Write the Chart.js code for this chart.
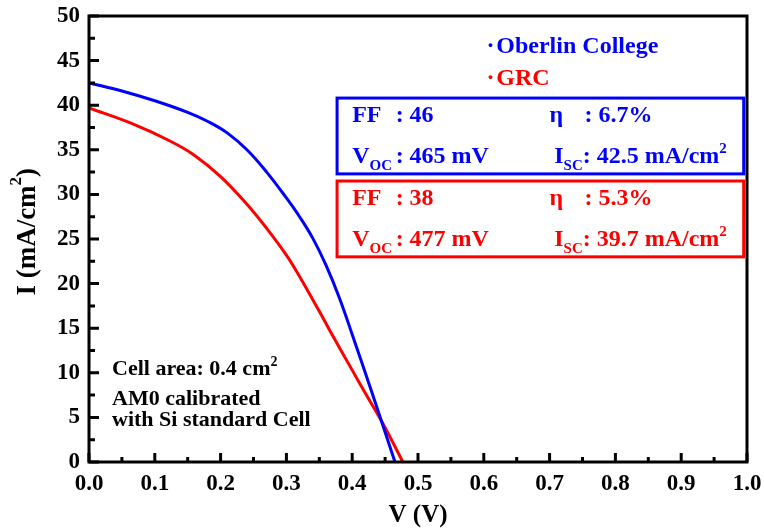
<!DOCTYPE html>
<html>
<head>
<meta charset="utf-8">
<script src="https://cdn.jsdelivr.net/npm/chart.js@4"></script>
<style>
    html, body { margin: 0; padding: 0; background: #fff; }
    #wrap { width: 764px; height: 531px; }
</style>
</head>
<body>
<div id="wrap"><canvas id="chart"></canvas></div>
<script>
const voltageOberlin = [0, 0.05, 0.10, 0.15, 0.18, 0.21, 0.24, 0.27, 0.30, 0.32, 0.34, 0.36, 0.38, 0.40, 0.43, 0.465];
const currentOberlin = [42.5, 41.6, 40.5, 39.2, 38.2, 36.9, 35.0, 32.5, 29.6, 27.5, 25.1, 22.1, 18.5, 14.3, 7.8, 0];

const voltageGrc = [0, 0.07, 0.12, 0.16, 0.20, 0.24, 0.27, 0.30, 0.32, 0.35, 0.37, 0.40, 0.42, 0.446, 0.477];
const currentGrc = [39.7, 37.8, 36.1, 34.4, 32.0, 28.9, 26.2, 23.2, 20.8, 16.9, 14.2, 10.3, 7.7, 4.4, 0];

const seriesNames = ["Oberlin College", "GRC"];
const seriesColors = ["#0000ff", "#ff0000"];
const xTickStep = 0.1;
const yTickStep = 5;

const SERIF = '"Liberation Serif", "Times New Roman", serif';

const toPoints = (xs, ys) => xs.map((x, i) => ({ x, y: ys[i] }));

// rich text: parts are [text, kind, x] with kind "sub" / "sup" / undefined
function drawRich(ctx, x, y, parts, size) {
    parts.forEach(([text, kind, at]) => {
        if (at !== undefined) x = at;
        const s = kind ? Math.round(size * 0.62) : size;
        ctx.font = `bold ${s}px ${SERIF}`;
        const dy = kind === "sub" ? size * 0.3 : kind === "sup" ? -size * 0.42 : 0;
        ctx.fillText(text, x, y + dy);
        x += ctx.measureText(text).width;
    });
    return x;
}

const framePlugin = {
    id: "frame",
    afterDraw(chart) {
        const { ctx, chartArea: a, scales } = chart;
        ctx.save();
        ctx.strokeStyle = "#000";
        ctx.lineWidth = 3;
        ctx.strokeRect(a.left, a.top, a.right - a.left, a.bottom - a.top);

        // inward ticks on bottom and left axes
        const xs = scales.x, ys = scales.y;
        ctx.beginPath();
        for (let v = xs.min; v <= xs.max + 1e-9; v += xTickStep / 2) {
            const major = Math.abs(Math.round(v / xTickStep) * xTickStep - v) < 1e-6;
            const px = xs.getPixelForValue(v);
            ctx.moveTo(px, a.bottom);
            ctx.lineTo(px, a.bottom - (major ? 9 : 5));
        }
        for (let v = ys.min; v <= ys.max + 1e-9; v += yTickStep / 2) {
            const major = Math.abs(Math.round(v / yTickStep) * yTickStep - v) < 1e-6;
            const py = ys.getPixelForValue(v);
            ctx.moveTo(a.left, py);
            ctx.lineTo(a.left + (major ? 10 : 6), py);
        }
        ctx.stroke();

        // y axis title, drawn by hand to get a real superscript
        ctx.translate(28, 231);
        ctx.rotate(-Math.PI / 2);
        ctx.fillStyle = "#000";
        ctx.font = `bold 27px ${SERIF}`;
        const w = ctx.measureText("I (mA/cm)").width + 10;
        ctx.textBaseline = "middle";
        drawRich(ctx, -w / 2, 0, [["I (mA/cm"], ["2", "sup"], [")"]], 27);
        ctx.restore();
    }
};

const notesPlugin = {
    id: "notes",
    afterDraw(chart) {
        const { ctx, scales } = chart;
        const px = v => scales.x.getPixelForValue(v);
        const py = v => scales.y.getPixelForValue(v);
        ctx.save();
        ctx.textBaseline = "alphabetic";
        ctx.textAlign = "left";

        // legend
        ctx.font = `bold 24px ${SERIF}`;
        seriesNames.forEach((name, i) => {
            const y = py([45.85, 42.3][i]);
            ctx.fillStyle = seriesColors[i];
            ctx.fillText("\u00b7", px(0.604), y);
            ctx.fillText(name, px(0.619), y);
        });

        // parameter boxes
        const boxes = [
            { color: seriesColors[0], top: 40.8, bottom: 32.3, l1: 38.1, l2: 33.5,
              ff: ": 46", eta: ": 6.7%", voc: ": 465 mV", isc: ": 42.5 mA/cm" },
            { color: seriesColors[1], top: 31.5, bottom: 23.0, l1: 28.8, l2: 24.2,
              ff: ": 38", eta: ": 5.3%", voc: ": 477 mV", isc: ": 39.7 mA/cm" }
        ];
        boxes.forEach(b => {
            ctx.strokeStyle = b.color;
            ctx.fillStyle = b.color;
            ctx.lineWidth = 3;
            const x0 = px(0.377), x1 = px(0.995);
            ctx.strokeRect(x0, py(b.top), x1 - x0, py(b.bottom) - py(b.top));
            drawRich(ctx, px(0.400), py(b.l1), [["FF"], [b.ff, undefined, px(0.466)]], 24);
            drawRich(ctx, px(0.700), py(b.l1), [["\u03b7"], [b.eta, undefined, px(0.753)]], 24);
            drawRich(ctx, px(0.400), py(b.l2), [["V"], ["OC", "sub"], [b.voc, undefined, px(0.466)]], 24);
            drawRich(ctx, px(0.707), py(b.l2), [["I"], ["SC", "sub"], [b.isc], ["2", "sup"]], 24);
        });

        // measurement notes
        ctx.fillStyle = "#000";
        drawRich(ctx, px(0.035), py(9.75), [["Cell area: 0.4 cm"], ["2", "sup"]], 22);
        drawRich(ctx, px(0.035), py(6.4), [["AM0 calibrated"]], 22);
        drawRich(ctx, px(0.035), py(4.0), [["with Si standard Cell"]], 22);
        ctx.restore();
    }
};

new Chart(document.getElementById("chart"), {
    type: "line",
    data: {
        datasets: [{
            label: seriesNames[0],
            data: toPoints(voltageOberlin, currentOberlin),
            borderColor: seriesColors[0],
            borderWidth: 3,
            pointRadius: 0,
            tension: 0.4
        }, {
            label: seriesNames[1],
            data: toPoints(voltageGrc, currentGrc),
            borderColor: seriesColors[1],
            borderWidth: 3,
            pointRadius: 0,
            tension: 0.4
        }]
    },
    options: {
        responsive: true,
        maintainAspectRatio: false,
        animation: false,
        layout: { padding: { top: 16, right: 17, left: 0, bottom: 0 } },
        plugins: { legend: { display: false }, tooltip: { enabled: false } },
        scales: {
            x: {
                type: "linear",
                min: 0,
                max: 1,
                afterFit: s => {
                    s.height = 69;
                    s.paddingLeft = 0;
                    s.paddingRight = 0;
                },
                grid: { display: false, drawTicks: false },
                border: { display: false },
                ticks: {
                    stepSize: xTickStep,
                    autoSkip: false,
                    maxRotation: 0,
                    padding: 8,
                    color: "#000",
                    font: { family: SERIF, size: 23, weight: "bold" },
                    callback: v => v.toFixed(1)
                },
                title: {
                    display: true,
                    text: "V (V)",
                    color: "#000",
                    padding: { top: 0, bottom: 0 },
                    font: { family: SERIF, size: 25, weight: "bold" }
                }
            },
            y: {
                min: 0,
                max: 50,
                afterFit: s => {
                    s.width = 89;
                    s.paddingTop = 0;
                    s.paddingBottom = 0;
                },
                grid: { display: false, drawTicks: false },
                border: { display: false },
                ticks: {
                    stepSize: yTickStep,
                    padding: 9,
                    color: "#000",
                    font: { family: SERIF, size: 23, weight: "bold" }
                }
            }
        }
    },
    plugins: [framePlugin, notesPlugin]
});
</script>
</body>
</html>
